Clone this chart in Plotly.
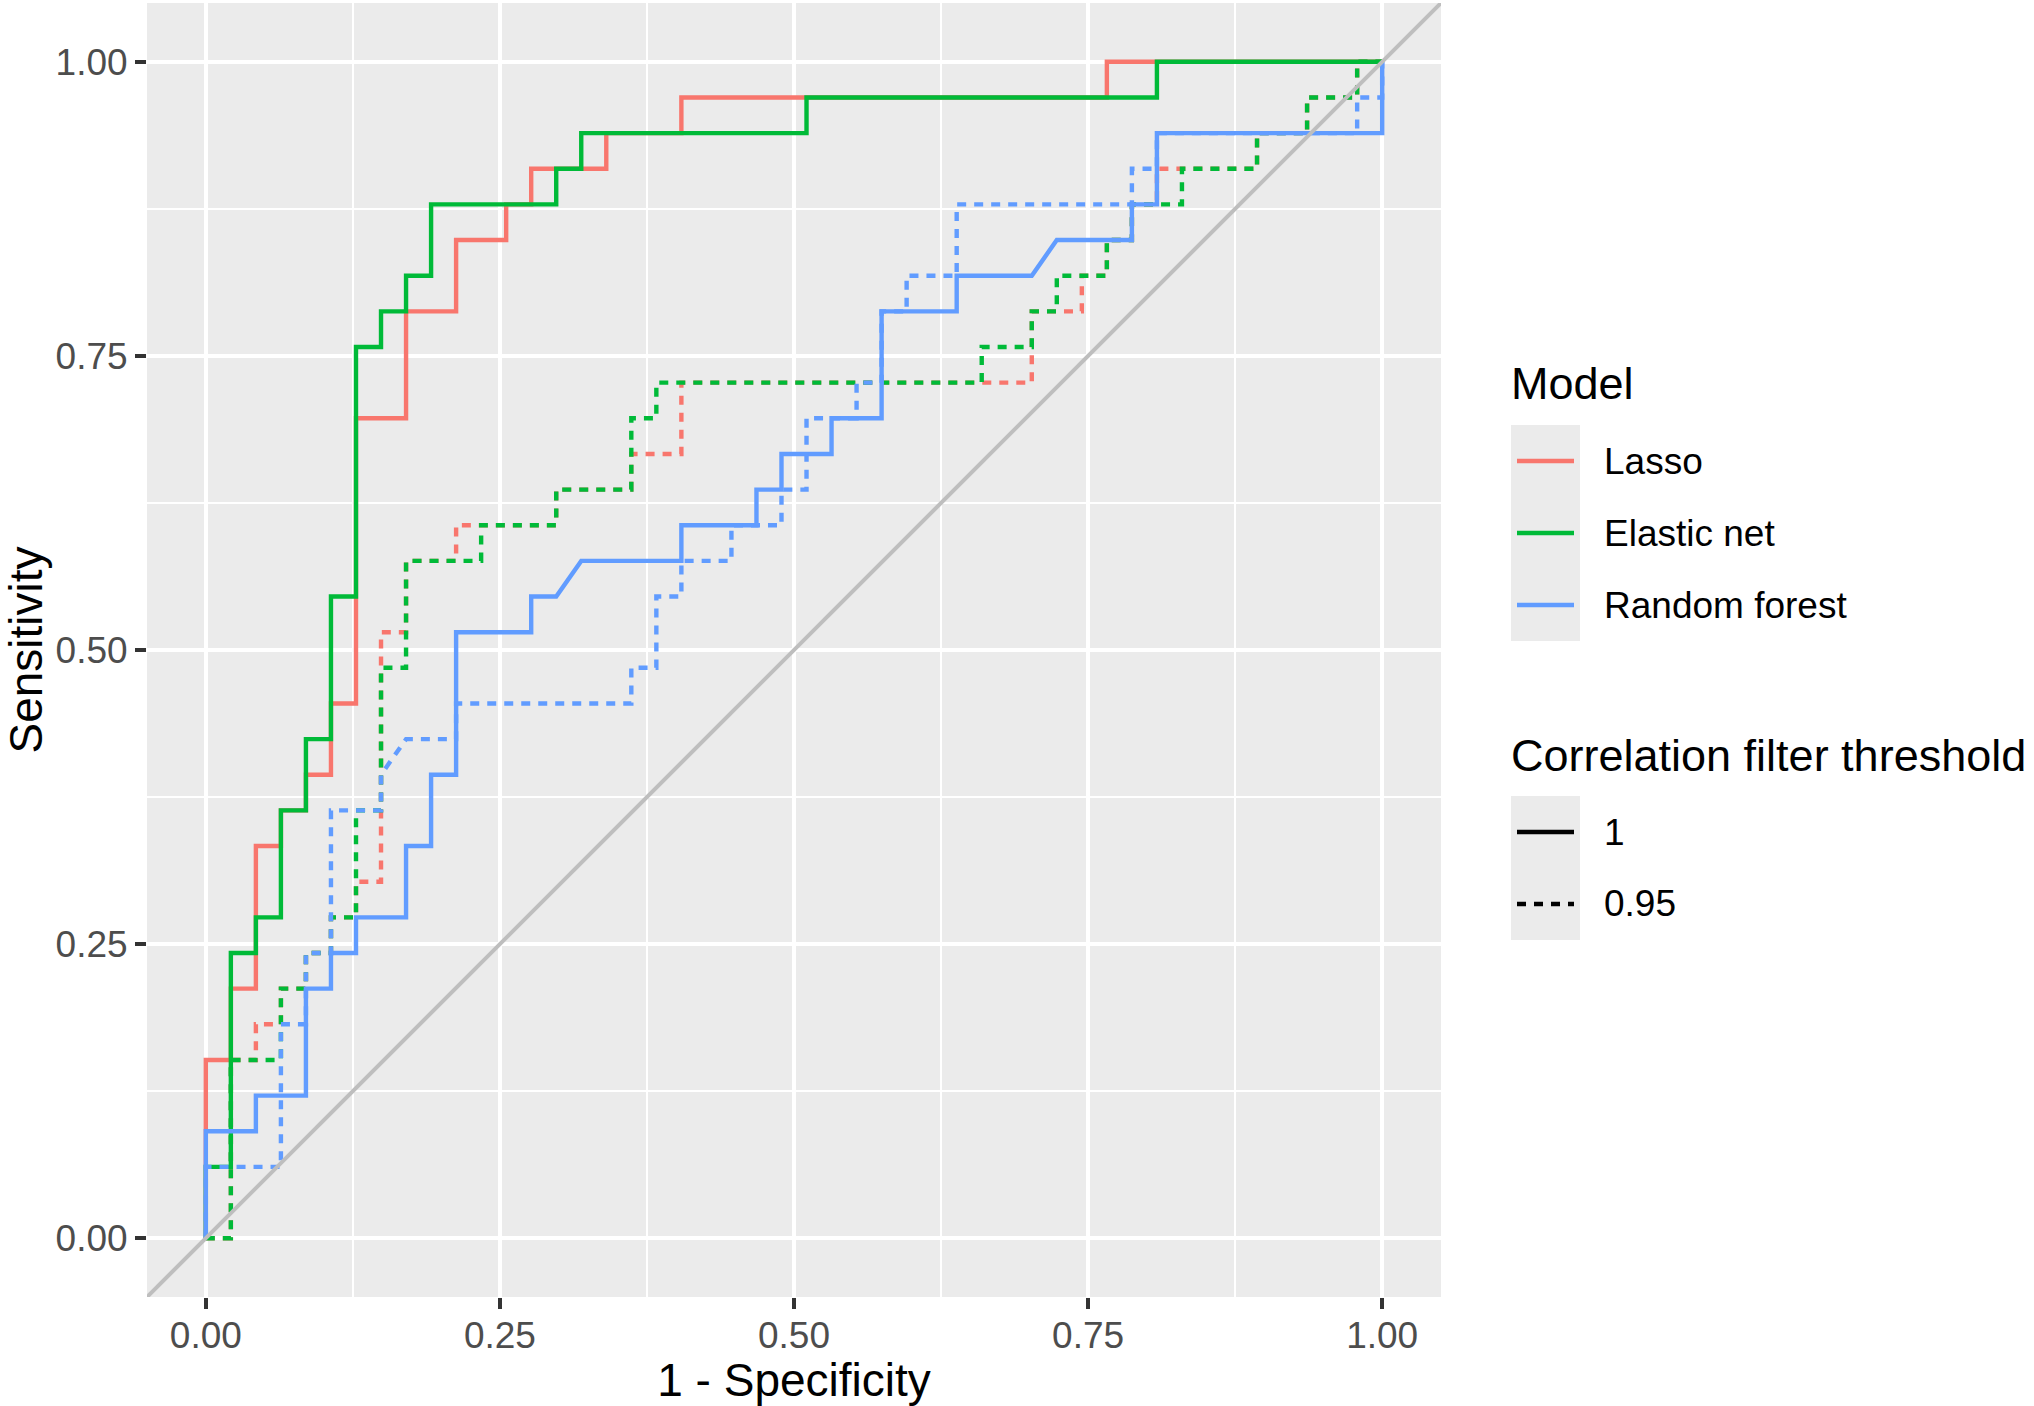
import plotly.graph_objects as go

# ---- data: ROC step vertices in counts (false positives out of 47 negatives, true positives out of 33 positives)
N_NEG = 47
N_POS = 33

lasso_1_fp = [0, 0, 1, 1, 2, 2, 3, 3, 4, 4, 5, 5, 6, 6, 8, 8, 10, 10, 12, 12, 13, 13, 16, 16, 19, 19, 36, 36, 47]
lasso_1_tp = [0, 5, 5, 7, 7, 11, 11, 12, 12, 13, 13, 15, 15, 23, 23, 26, 26, 28, 28, 29, 29, 30, 30, 31, 31, 32, 32, 33, 33]

lasso_095_fp = [0, 1, 1, 2, 2, 3, 3, 4, 4, 5, 5, 6, 6, 7, 7, 8, 8, 10, 10, 14, 14, 17, 17, 19, 19, 33, 33, 35, 35, 36, 36, 37, 37, 38, 38, 42, 42, 44, 44, 46, 46, 47]
lasso_095_tp = [0, 0, 5, 5, 6, 6, 7, 7, 8, 8, 9, 9, 10, 10, 17, 17, 19, 19, 20, 20, 21, 21, 22, 22, 24, 24, 26, 26, 27, 27, 28, 28, 29, 29, 30, 30, 31, 31, 32, 32, 33, 33]

enet_1_fp = [0, 0, 1, 1, 2, 2, 3, 3, 4, 4, 5, 5, 6, 6, 7, 7, 8, 8, 9, 9, 14, 14, 15, 15, 24, 24, 38, 38, 47]
enet_1_tp = [0, 2, 2, 8, 8, 9, 9, 12, 12, 14, 14, 18, 18, 25, 25, 26, 26, 27, 27, 29, 29, 30, 30, 31, 31, 32, 32, 33, 33]

enet_095_fp = [0, 1, 1, 3, 3, 4, 4, 5, 5, 6, 6, 7, 7, 8, 8, 11, 11, 14, 14, 17, 17, 18, 18, 31, 31, 33, 33, 34, 34, 36, 36, 37, 37, 39, 39, 42, 42, 44, 44, 46, 46, 47]
enet_095_tp = [0, 0, 5, 5, 7, 7, 8, 8, 9, 9, 12, 12, 16, 16, 19, 19, 20, 20, 21, 21, 23, 23, 24, 24, 25, 25, 26, 26, 27, 27, 28, 28, 29, 29, 30, 30, 31, 31, 32, 32, 33, 33]

rf_1_fp = [0, 0, 2, 2, 4, 4, 5, 5, 6, 6, 8, 8, 9, 9, 10, 10, 13, 13, 14, 15, 19, 19, 22, 22, 23, 23, 25, 25, 27, 27, 30, 30, 33, 34, 37, 37, 38, 38, 47, 47]
rf_1_tp = [0, 3, 3, 4, 4, 7, 7, 8, 8, 9, 9, 11, 11, 13, 13, 17, 17, 18, 18, 19, 19, 20, 20, 21, 21, 22, 22, 23, 23, 26, 26, 27, 27, 28, 28, 29, 29, 31, 31, 33]

rf_095_fp = [0, 0, 3, 3, 4, 4, 5, 5, 7, 7, 8, 10, 10, 17, 17, 18, 18, 19, 19, 21, 21, 23, 23, 24, 24, 26, 26, 27, 27, 28, 28, 30, 30, 37, 37, 38, 38, 46, 46, 47, 47]
rf_095_tp = [0, 2, 2, 6, 6, 8, 8, 12, 12, 13, 14, 14, 15, 15, 16, 16, 18, 18, 19, 19, 20, 20, 21, 21, 23, 23, 24, 24, 26, 26, 27, 27, 29, 29, 30, 30, 31, 31, 32, 32, 33]

MODELS = ["Lasso", "Elastic net", "Random forest"]
MODEL_COLORS = ["#F8766D", "#00BA38", "#619CFF"]
THRESHOLDS = ["1", "0.95"]
TICK_VALS = [0.0, 0.25, 0.5, 0.75, 1.0]
TICK_TEXT = ["0.00", "0.25", "0.50", "0.75", "1.00"]
MINOR_VALS = [0.125, 0.375, 0.625, 0.875]
X_TITLE = "1 - Specificity"
Y_TITLE = "Sensitivity"
MODEL_TITLE = "Model"
THRESH_TITLE = "Correlation filter threshold"

curves = [
    # (model index, threshold index, fp, tp)  -- drawing order as ggplot groups
    (0, 0, lasso_1_fp, lasso_1_tp),
    (0, 1, lasso_095_fp, lasso_095_tp),
    (1, 0, enet_1_fp, enet_1_tp),
    (1, 1, enet_095_fp, enet_095_tp),
    (2, 0, rf_1_fp, rf_1_tp),
    (2, 1, rf_095_fp, rf_095_tp),
]

# ---- styling
W, H = 2034, 1406
ML, MR, MT, MB = 147, 593, 3, 109
PW = W - ML - MR
PH = H - MT - MB
FONT = "Liberation Sans, Arial, sans-serif"
LW = 4.4
DASH = "9px,8px"
XR = [-0.05, 1.05]
YR = [-0.05, 1.05]

fig = go.Figure()

for mi, ti, fp, tp in curves:
    fig.add_trace(go.Scatter(
        x=[v / N_NEG for v in fp],
        y=[v / N_POS for v in tp],
        mode="lines",
        line=dict(color=MODEL_COLORS[mi], width=LW, dash="solid" if ti == 0 else DASH),
        name=f"{MODELS[mi]} ({THRESHOLDS[ti]})",
        showlegend=False,
        hoverinfo="skip",
    ))

# reference diagonal (abline slope 1) across the full panel range
fig.add_trace(go.Scatter(
    x=XR, y=YR, mode="lines",
    line=dict(color="#BEBEBE", width=4),
    showlegend=False, hoverinfo="skip",
))

axis_common = dict(
    showline=False,
    zeroline=False,
    showgrid=True,
    gridcolor="white",
    gridwidth=LW,
    ticks="outside",
    ticklen=11,
    tickwidth=LW,
    tickcolor="#333333",
    tickvals=TICK_VALS,
    ticktext=TICK_TEXT,
    tickfont=dict(family=FONT, size=37, color="#4D4D4D"),
    minor=dict(tickvals=MINOR_VALS, showgrid=True,
               gridcolor="white", gridwidth=2.2, ticks=""),
)

fig.update_xaxes(**axis_common, range=XR, ticklabelstandoff=-5,
                 title=dict(text=X_TITLE, font=dict(family=FONT, size=46, color="black"), standoff=14))
fig.update_yaxes(**axis_common, range=YR,
                 title=dict(text=Y_TITLE, font=dict(family=FONT, size=46, color="black"), standoff=14))


def px2x(px):
    return (px - ML) / PW


def py2y(py):
    return (H - MB - py) / PH


shapes = []
annotations = []

LEG_X0 = 1511
KEY_W = 69
KEY_H = 72
TEXT_X = 1604

# Model legend
annotations.append(dict(x=px2x(LEG_X0 - 2), y=py2y(383), xref="paper", yref="paper",
                        text=MODEL_TITLE, showarrow=False, xanchor="left", yanchor="middle",
                        font=dict(family=FONT, size=45, color="black")))
top = 425
shapes.append(dict(type="rect", xref="paper", yref="paper",
                   x0=px2x(LEG_X0), x1=px2x(LEG_X0 + KEY_W),
                   y0=py2y(top), y1=py2y(top + KEY_H * len(MODELS)),
                   fillcolor="#EBEBEB", line=dict(width=0), layer="below"))
for k, (name, col) in enumerate(zip(MODELS, MODEL_COLORS)):
    cy = top + KEY_H * k + KEY_H / 2
    shapes.append(dict(type="line", xref="paper", yref="paper",
                       x0=px2x(LEG_X0 + 6), x1=px2x(LEG_X0 + KEY_W - 6),
                       y0=py2y(cy), y1=py2y(cy), line=dict(color=col, width=LW)))
    annotations.append(dict(x=px2x(TEXT_X - 2), y=py2y(cy), xref="paper", yref="paper",
                            text=name, showarrow=False, xanchor="left", yanchor="middle",
                            font=dict(family=FONT, size=37, color="black")))

# Threshold legend
annotations.append(dict(x=px2x(LEG_X0 - 2), y=py2y(755), xref="paper", yref="paper",
                        text=THRESH_TITLE, showarrow=False, xanchor="left", yanchor="middle",
                        font=dict(family=FONT, size=45, color="black")))
top2 = 796
shapes.append(dict(type="rect", xref="paper", yref="paper",
                   x0=px2x(LEG_X0), x1=px2x(LEG_X0 + KEY_W),
                   y0=py2y(top2), y1=py2y(top2 + KEY_H * len(THRESHOLDS)),
                   fillcolor="#EBEBEB", line=dict(width=0), layer="below"))
for k, name in enumerate(THRESHOLDS):
    cy = top2 + KEY_H * k + KEY_H / 2
    shapes.append(dict(type="line", xref="paper", yref="paper",
                       x0=px2x(LEG_X0 + 6), x1=px2x(LEG_X0 + KEY_W - 6),
                       y0=py2y(cy), y1=py2y(cy),
                       line=dict(color="black", width=LW, dash="solid" if k == 0 else DASH)))
    annotations.append(dict(x=px2x(TEXT_X - 2), y=py2y(cy), xref="paper", yref="paper",
                            text=name, showarrow=False, xanchor="left", yanchor="middle",
                            font=dict(family=FONT, size=37, color="black")))

fig.update_layout(
    width=W, height=H,
    margin=dict(l=ML, r=MR, t=MT, b=MB, pad=0),
    paper_bgcolor="white",
    plot_bgcolor="#EBEBEB",
    font=dict(family=FONT),
    showlegend=False,
    shapes=shapes,
    annotations=annotations,
)

fig.write_html(
    "out.html",
    config={"displayModeBar": False},
    post_script="document.body.style.margin='0';document.body.style.overflow='hidden';",
)
